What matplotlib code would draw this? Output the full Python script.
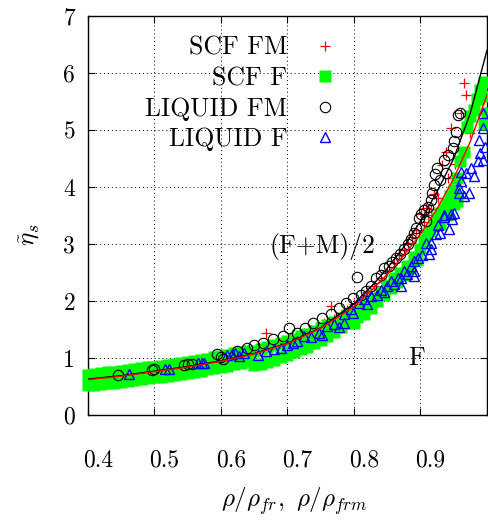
import matplotlib
matplotlib.use('Agg')
import matplotlib.pyplot as plt
import matplotlib.transforms as mtransforms

plt.rcParams['font.family'] = 'serif'
plt.rcParams['font.serif'] = ['cmr10']
plt.rcParams['mathtext.fontset'] = 'cm'
plt.rcParams['axes.unicode_minus'] = False
plt.rcParams['axes.formatter.use_mathtext'] = True

# ---------------- data ----------------
fit_x = [0.40, 0.45, 0.50, 0.55, 0.60, 0.65, 0.70, 0.75, 0.80, 0.825, 0.85,
         0.875, 0.90, 0.925, 0.95, 0.975, 1.00]
fit_fm_y = [0.63, 0.69, 0.77, 0.85, 0.95, 1.08, 1.26, 1.53, 1.95, 2.24, 2.57,
            2.95, 3.40, 3.92, 4.50, 5.30, 6.40]
fit_f_y = [0.62, 0.68, 0.76, 0.84, 0.94, 1.07, 1.25, 1.52, 1.90, 2.17, 2.47,
           2.80, 3.17, 3.62, 4.15, 4.80, 5.62]

scf_fm_x = [0.42, 0.44, 0.46, 0.48, 0.50, 0.52, 0.54, 0.56, 0.58, 0.60, 0.62, 0.64,
            0.655, 0.668, 0.675, 0.685, 0.695, 0.705, 0.715, 0.725, 0.735, 0.745,
            0.755, 0.765, 0.770, 0.780, 0.790, 0.800, 0.810, 0.820, 0.830, 0.840,
            0.850, 0.860, 0.868, 0.875, 0.882, 0.888, 0.894, 0.901, 0.905, 0.908,
            0.912, 0.916, 0.920, 0.926, 0.933, 0.938, 0.942, 0.946, 0.952, 0.961,
            0.965, 0.969, 0.975, 0.995, 0.997]
scf_fm_y = [0.68, 0.71, 0.74, 0.76, 0.79, 0.82, 0.86, 0.90, 0.94, 0.99, 1.04, 1.10,
            1.15, 1.44, 1.22, 1.26, 1.30, 1.34, 1.38, 1.43, 1.49, 1.55,
            1.61, 1.92, 1.68, 1.76, 1.85, 1.94, 2.04, 2.15, 2.27, 2.40,
            2.53, 2.67, 2.80, 2.90, 3.02, 3.12, 3.25, 3.52, 3.38, 3.63,
            3.50, 3.62, 3.87, 3.80, 4.39, 4.62, 4.15, 5.03, 4.40, 5.29,
            5.82, 5.62, 4.95, 5.55, 5.30]

scf_f_x = [0.40, 0.41, 0.42, 0.43, 0.44, 0.45, 0.46, 0.47, 0.48, 0.49,
           0.50, 0.51, 0.52, 0.53, 0.54, 0.55, 0.56, 0.57, 0.58, 0.59,
           0.60, 0.61, 0.62, 0.63, 0.64, 0.65, 0.66, 0.67, 0.68, 0.69,
           0.70, 0.71, 0.72, 0.73, 0.74, 0.75, 0.76, 0.77, 0.78, 0.79,
           0.40, 0.41, 0.42, 0.43, 0.44, 0.45, 0.46, 0.47, 0.48, 0.49,
           0.50, 0.51, 0.52, 0.53, 0.54, 0.55, 0.56, 0.57, 0.58, 0.59,
           0.60, 0.61, 0.62, 0.63, 0.64, 0.65, 0.66, 0.67, 0.68, 0.69,
           0.70, 0.71, 0.72, 0.73, 0.74, 0.75, 0.76, 0.77, 0.78, 0.79,
           0.800, 0.800, 0.805, 0.810, 0.815, 0.820, 0.825, 0.830, 0.835, 0.840,
           0.845, 0.850, 0.855, 0.860, 0.865, 0.870, 0.875, 0.880, 0.885, 0.890,
           0.895, 0.900, 0.905, 0.910, 0.915, 0.920, 0.925, 0.930, 0.930, 0.935,
           0.940, 0.940, 0.945, 0.950, 0.950, 0.955, 0.955, 0.960, 0.965, 0.970,
           0.975, 0.980, 0.985, 0.990, 0.995, 1.000, 1.000, 0.995]
scf_f_y = [0.71, 0.72, 0.735, 0.75, 0.76, 0.77, 0.79, 0.80, 0.82, 0.835,
           0.85, 0.865, 0.88, 0.895, 0.91, 0.93, 0.95, 0.97, 0.99, 1.01,
           1.03, 1.055, 1.08, 1.10, 1.12, 1.13, 1.16, 1.19, 1.23, 1.26,
           1.30, 1.34, 1.38, 1.42, 1.47, 1.52, 1.58, 1.64, 1.70, 1.76,
           0.52, 0.53, 0.545, 0.56, 0.57, 0.58, 0.60, 0.61, 0.63, 0.645,
           0.66, 0.675, 0.69, 0.705, 0.72, 0.74, 0.76, 0.78, 0.80, 0.82,
           0.84, 0.865, 0.89, 0.915, 0.94, 0.87, 0.90, 0.93, 0.97, 1.01,
           1.05, 1.10, 1.15, 1.20, 1.26, 1.32, 1.39, 1.46, 1.54, 1.62,
           1.62, 1.80, 1.72, 1.85, 1.78, 1.95, 1.88, 2.05, 2.00, 2.15,
           2.10, 2.28, 2.22, 2.40, 2.33, 2.50, 2.45, 2.62, 2.58, 2.78,
           2.72, 2.92, 3.05, 3.15, 3.22, 3.35, 3.45, 3.35, 3.55, 3.62,
           3.50, 3.72, 3.85, 3.70, 3.95, 3.75, 4.15, 4.45, 4.62, 5.06,
           5.25, 5.35, 5.55, 5.70, 5.85, 5.60, 5.30, 5.10]

liq_fm_x = [0.445, 0.496, 0.500, 0.545, 0.550, 0.556, 0.594, 0.600, 0.604,
            0.624, 0.639, 0.650, 0.664, 0.679, 0.694, 0.703, 0.715, 0.727, 0.739,
            0.752, 0.765, 0.777, 0.788, 0.798, 0.804, 0.810, 0.818, 0.825, 0.833,
            0.840, 0.845, 0.852, 0.858, 0.863, 0.870, 0.876, 0.881, 0.886, 0.890,
            0.893, 0.898, 0.901, 0.905, 0.908, 0.912, 0.916, 0.918, 0.920, 0.922,
            0.925, 0.930, 0.936, 0.938, 0.942, 0.949, 0.951, 0.953, 0.956, 0.960]
liq_fm_y = [0.71, 0.79, 0.80, 0.88, 0.89, 0.90, 1.07, 1.02, 0.98,
            1.12, 1.18, 1.22, 1.27, 1.33, 1.38, 1.52, 1.44, 1.53, 1.62,
            1.70, 1.77, 1.88, 1.97, 2.05, 2.42, 2.10, 2.18, 2.27, 2.40,
            2.45, 2.58, 2.62, 2.68, 2.75, 2.83, 2.92, 3.00, 3.08, 3.20,
            3.28, 3.46, 3.52, 3.60, 3.40, 3.65, 3.77, 3.89, 4.04, 4.22,
            4.33, 4.12, 4.48, 4.25, 4.56, 4.68, 4.80, 4.97, 5.27, 5.30]

liq_f_x = [0.462, 0.516, 0.522, 0.566, 0.571, 0.575, 0.610, 0.617, 0.622, 0.627,
           0.635, 0.656, 0.668, 0.680, 0.690, 0.700, 0.708, 0.715, 0.725, 0.735,
           0.747, 0.752, 0.760, 0.770, 0.778, 0.785, 0.785, 0.795, 0.798, 0.807,
           0.815, 0.820, 0.825, 0.835, 0.840, 0.845, 0.850, 0.855, 0.860, 0.866,
           0.871, 0.871, 0.875, 0.880, 0.886, 0.891, 0.891, 0.891, 0.896, 0.902,
           0.908, 0.913, 0.916, 0.916, 0.923, 0.926, 0.930, 0.936, 0.936, 0.943,
           0.946, 0.948, 0.950, 0.958, 0.958, 0.961, 0.961, 0.965, 0.969, 0.973,
           0.976, 0.980, 0.986, 0.988, 0.990, 0.994, 0.994, 0.994, 0.997]
liq_f_y = [0.72, 0.80, 0.81, 0.91, 0.92, 0.91, 1.05, 1.07, 1.09, 1.04,
           1.08, 1.05, 1.12, 1.15, 1.18, 1.22, 1.27, 1.30, 1.38, 1.36,
           1.44, 1.40, 1.56, 1.59, 1.55, 1.62, 1.77, 1.86, 1.79, 1.97,
           2.03, 1.95, 2.08, 2.10, 2.20, 2.15, 2.26, 2.35, 2.30, 2.40,
           2.26, 2.40, 2.52, 2.47, 2.61, 2.43, 2.52, 2.70, 2.76, 2.80,
           3.02, 2.82, 2.91, 3.02, 3.17, 3.34, 3.20, 3.48, 3.50, 3.26,
           3.52, 3.43, 3.55, 3.89, 3.98, 4.10, 4.27, 3.85, 4.24, 3.89,
           4.33, 4.20, 4.45, 4.83, 4.60, 4.48, 5.03, 5.29, 4.70]

x_ticks = [0.4, 0.5, 0.6, 0.7, 0.8, 0.9, 1.0]
x_tick_labels = ['0.4', '0.5', '0.6', '0.7', '0.8', '0.9', '1']
y_ticks = [0, 1, 2, 3, 4, 5, 6, 7]
y_tick_labels = ['0', '1', '2', '3', '4', '5', '6', '7']

# ---------------- figure ----------------
fig = plt.figure(figsize=(4.88, 5.2), dpi=100)
ax = fig.add_axes([87.7 / 488, 105 / 520, 399.3 / 488, 399 / 520])

ax.plot(scf_fm_x, scf_fm_y, ls='none', marker='+', color='red', ms=7.5, mew=0.9,
        label='SCF FM', zorder=2, clip_on=False)
ax.plot(scf_f_x, scf_f_y, ls='none', marker='s', color='#00ff00', mec='none', ms=8.5,
        label='SCF F', zorder=3, clip_on=False)
ax.plot(liq_fm_x, liq_fm_y, ls='none', marker='o', mfc='none', mec='black', ms=7.5,
        mew=0.8, label='LIQUID FM', zorder=4, clip_on=False)
ax.plot(liq_f_x, liq_f_y, ls='none', marker='^', mfc='none', mec='blue', ms=7.5,
        mew=1.0, label='LIQUID F', zorder=5, clip_on=False)
ax.plot(fit_x, fit_fm_y, color='black', lw=1.0, zorder=6)
ax.plot(fit_x, fit_f_y, color='red', lw=1.0, zorder=6)

ax.set_xlim(0.4, 1.0)
ax.set_ylim(0, 7)
ax.set_xticks(x_ticks)
ax.set_xticklabels(x_tick_labels)
ax.set_yticks(y_ticks)
ax.set_yticklabels(y_tick_labels)
ax.set_axisbelow(True)
ax.grid(True, ls=(0, (1, 3)), color='black', lw=0.7)
ax.tick_params(direction='in', length=5, width=0.8, top=True, right=True, labelsize=17)
ax.tick_params(axis='x', pad=25)
ax.tick_params(axis='y', pad=9)
for s in ax.spines.values():
    s.set_linewidth(1.0)

offset = mtransforms.ScaledTranslation(10 / 100, 0, fig.dpi_scale_trans)
for lab in ax.get_xticklabels():
    lab.set_transform(lab.get_transform() + offset)

ax.set_xlabel(r'$\rho/\rho_{fr},\ \rho/\rho_{frm}$', fontsize=18, va='center')
ax.xaxis.set_label_coords(0.517, -0.216)
ax.set_ylabel(r'$\tilde{\eta}_s$', fontsize=18, va='center')
ax.yaxis.set_label_coords(-0.1445, 0.451)

ax.text(0.588, 0.4225, '(F+M)/2', transform=ax.transAxes, fontsize=18.5,
        ha='center', va='center')
ax.text(0.824, 0.1425, 'F', transform=ax.transAxes, fontsize=18.5,
        ha='center', va='center')

ax.legend(loc='upper right', bbox_to_anchor=(0.627, 0.95), markerfirst=False,
          frameon=False, fontsize=18.5, handlelength=1.0, handletextpad=0.98,
          labelspacing=0.26, borderpad=0, borderaxespad=0, numpoints=1)

fig.savefig('out.png', dpi=100)
